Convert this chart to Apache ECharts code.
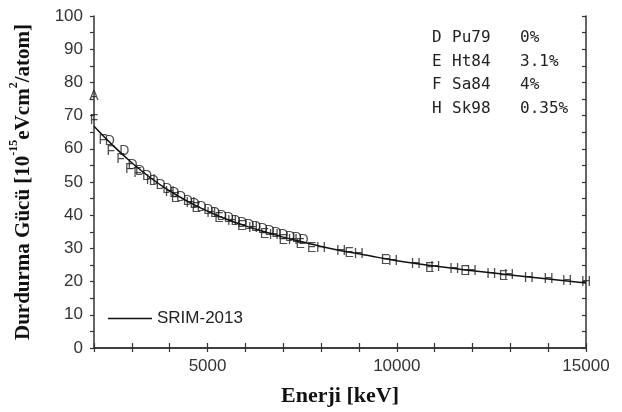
<!DOCTYPE html>
<html><head><meta charset="utf-8">
<script src="https://cdn.jsdelivr.net/npm/echarts@6/dist/echarts.min.js"></script>
<style>html,body{margin:0;padding:0;background:#fff}#c{width:622px;height:412px}</style>
</head><body><div id="c"></div>
<script>
// SRIM-2013 curve
const srimE = [2000,2500,3000,3500,4000,4500,5000,5500,6000,6500,7000,7500,8000,8500,9000,9500,10000,11000,12000,13000,14000,15000];
const srimS = [66.8,61,55.8,51.2,47.3,44,41.2,38.8,36.8,35,33.4,32,30.6,29.4,28.4,27.3,26.3,24.7,23.3,22,20.8,19.6];
// experimental data sets (energy keV, stopping power)
const pointsD = [[2420,62.3],[2800,59.4],[3020,55.2],[3220,53.4],[3400,51.9],[3580,50.4],[3760,49],[3940,47.8],[4120,46.6],[4300,45.4],[4480,44.3],[4660,43.3],[4840,42.3],[5020,41.4],[5200,40.6],[5380,39.8],[5560,39],[5740,38.3],[5920,37.6],[6100,36.9],[6280,36.3],[6460,35.7],[6640,35.1],[6820,34.5],[7000,34],[7180,33.5],[7360,33],[7540,32.5]];
const pointsE = [[4150,45.2],[4700,42.2],[5300,39],[5900,36.6],[6500,34.4],[7000,32.6],[7450,31.3],[7750,30.2],[8740,28.5],[9700,26.6],[10870,24.2],[11800,23],[12820,21.7]];
const pointsF = [[2000,68.5],[2230,62.5],[2440,59.3],[2700,56.8],[2930,53.9],[3150,52.6]];
const pointsH = [[3500,50.5],[4000,47],[4550,43.6],[5100,40.5],[5650,38.2],[6200,36.1],[6750,34],[7250,32.4],[8000,30.1],[8530,29.3],[9000,28.4],[9900,26.3],[10500,25.2],[11020,24.5],[11520,23.7],[11980,23.2],[12500,22.3],[12970,21.9],[13490,21.1],[14010,20.6],[14500,20.2],[15000,19.7]];
const pointsA = [[2000,75.8]];
// annotation rows
const refRows = [['D','Pu79','0%'],['E','Ht84','3.1%'],['F','Sa84','4%'],['H','Sk98','0.35%']];
const xTickLabels = [5000,10000,15000];
const yTickLabels = [0,10,20,30,40,50,60,70,80,90,100];

const chart = echarts.init(document.getElementById('c'), null, {renderer:'canvas'});
const axisCol = '#333';
const sansF = 'Liberation Sans, Arial, sans-serif';
function letterSeries(name, data, letter){
  return {
    name: name, type:'scatter', data: data, symbol:'circle', symbolSize:1,
    itemStyle:{color:'rgba(0,0,0,0)'}, z:3,
    label:{show:true, position:'inside', formatter: letter, fontFamily:sansF, fontSize:14, color:'#222'}
  };
}
const srimData = srimE.map((e,i)=>[e, srimS[i]]);
const graphics = [];
refRows.forEach((r,i)=>{
  const y = 30 + i*23.5;
  graphics.push({type:'text', left:432, top:y, style:{text:r[0], font:'16px "DejaVu Sans Mono", monospace', fill:'#222'}});
  graphics.push({type:'text', left:452, top:y, style:{text:r[1], font:'16px "DejaVu Sans Mono", monospace', fill:'#222'}});
  graphics.push({type:'text', left:520, top:y, style:{text:r[2], font:'16px "DejaVu Sans Mono", monospace', fill:'#222'}});
});
chart.setOption({
  animation:false,
  backgroundColor:'#fff',
  grid:{left:86, right:36, top:16, bottom:62, containLabel:false},
  legend:{data:[{name:'SRIM-2013', icon:'rect'}], left:103, top:305, itemWidth:44, itemHeight:1.5, itemGap:5,
    textStyle:{fontFamily:sansF, fontSize:17, color:'#222'}},
  graphic: graphics,
  xAxis:[{
    type:'value', min:2000, max:15000, interval:1000,
    name:'Enerji [keV]', nameLocation:'middle', nameGap:37,
    nameTextStyle:{fontFamily:'Liberation Serif, serif', fontWeight:'bold', fontSize:22, color:'#111'},
    axisLine:{lineStyle:{color:axisCol, width:1.5}},
    axisTick:{inside:true, length:5, lineStyle:{color:axisCol, width:1.2}},
    axisLabel:{fontFamily:sansF, fontSize:17, color:'#333', margin:10,
      formatter:v=> xTickLabels.indexOf(v)>=0 ? String(v) : ''},
    splitLine:{show:false}
  },{
    type:'value', position:'top', min:2000, max:15000, interval:1000,
    axisLine:{show:true, lineStyle:{color:axisCol, width:1.5}},
    axisTick:{inside:true, length:4, lineStyle:{color:axisCol, width:1.2}},
    axisLabel:{show:false}, splitLine:{show:false}
  }],
  yAxis:[{
    type:'value', min:0, max:100, interval:5,
    name:'{a|Durdurma Gücü [10}{s|-15}{a|eVcm}{s|2}{a|/atom]}', nameLocation:'middle', nameGap:60,
    nameTextStyle:{rich:{
      a:{fontFamily:'Liberation Serif, serif', fontWeight:'bold', fontSize:21, color:'#111', lineHeight:26, verticalAlign:'bottom'},
      s:{fontFamily:'Liberation Serif, serif', fontWeight:'bold', fontSize:12, color:'#111', lineHeight:26, verticalAlign:'top'}
    }},
    axisLine:{show:true, lineStyle:{color:axisCol, width:1.5}},
    axisTick:{show:true, inside:false, length:4, lineStyle:{color:axisCol, width:1.2}},
    axisLabel:{fontFamily:sansF, fontSize:17, color:'#333', margin:11,
      formatter:v=> yTickLabels.indexOf(v)>=0 ? String(v) : ''},
    splitLine:{show:false}
  },{
    type:'value', position:'right', min:0, max:100, interval:5,
    axisLine:{show:true, lineStyle:{color:axisCol, width:1.5}},
    axisTick:{show:true, inside:true, length:4, lineStyle:{color:axisCol, width:1.2}},
    axisLabel:{show:false}, splitLine:{show:false}
  }],
  series:[
    {name:'SRIM-2013', type:'line', data:srimData, smooth:true, symbol:'none', z:4,
      lineStyle:{color:'#111', width:1.5}, itemStyle:{color:'#111'}},
    letterSeries('Pu79', pointsD, 'D'),
    letterSeries('Ht84', pointsE, 'E'),
    letterSeries('Sa84', pointsF, 'F'),
    letterSeries('Sk98', pointsH, 'H'),
    letterSeries('A', pointsA, 'A')
  ]
});
</script></body></html>
